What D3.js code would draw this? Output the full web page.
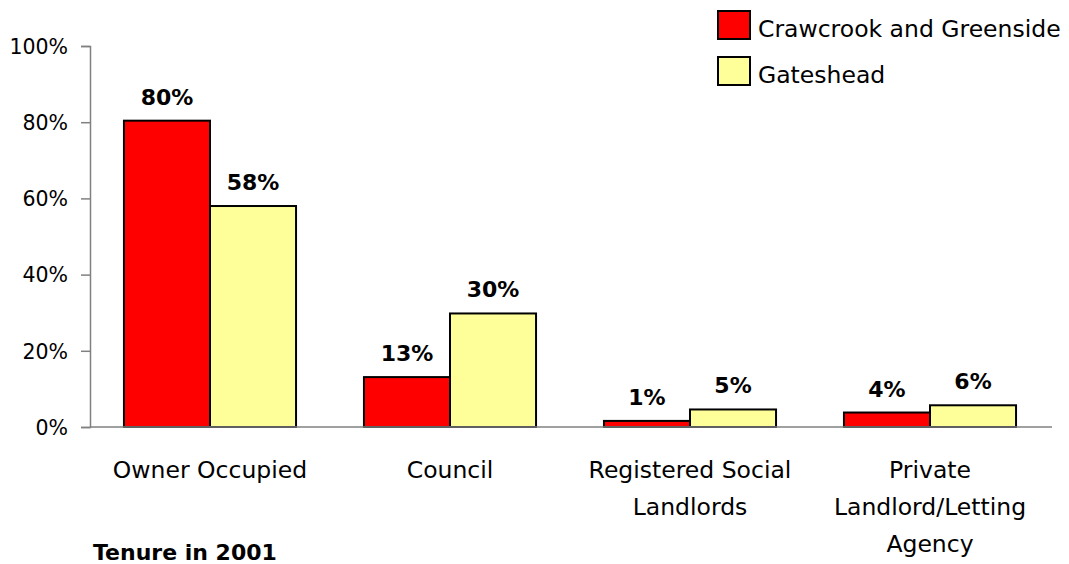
<!DOCTYPE html>
<html><head><meta charset="utf-8">
<script src="https://cdn.jsdelivr.net/npm/d3@7"></script>
<style>body{margin:0;background:#fff;} svg{display:block;} text{font-family:"DejaVu Sans",sans-serif;fill:#000;}</style>
</head><body>
<svg id="c" width="1069" height="564"></svg>
<script>
const categories = [["Owner Occupied"],["Council"],["Registered Social","Landlords"],["Private","Landlord/Letting","Agency"]];
const seriesNames = ["Crawcrook and Greenside","Gateshead"];
const crawcrook = [80.4, 13.1, 1.6, 3.8];
const gateshead = [58.0, 29.8, 4.6, 5.7];
const crawcrookLabels = ["80%","13%","1%","4%"];
const gatesheadLabels = ["58%","30%","5%","6%"];
const yTicks = [0,20,40,60,80,100];
const colors = ["#ff0000","#ffff99"];
const xTitle = "Tenure in 2001";

const svg = d3.select("#c");
const x = d3.scaleBand().domain(d3.range(categories.length)).range([90,1050]).paddingInner(0.283).paddingOuter(0.1415);
const y = d3.scaleLinear().domain([0,100]).range([427,46]);
const xs = d3.scaleBand().domain([0,1]).range([0,x.bandwidth()]);

// y axis
const ya = svg.append("g").attr("transform","translate(90,0)")
  .call(d3.axisLeft(y).tickValues(yTicks).tickFormat(d=>d+"%").tickSize(9).tickPadding(13));
ya.select(".domain").attr("stroke","#808080").attr("stroke-width",1.5);
ya.selectAll(".tick line").attr("stroke","#808080").attr("stroke-width",1.5);
ya.selectAll(".tick text").style("font-family","DejaVu Sans").style("font-size","20.5px").attr("fill","#000").attr("dy","0.36em");

const series = [crawcrook, gateshead];
const labels = [crawcrookLabels, gatesheadLabels];
series.forEach((vals,si)=>{
  svg.append("g").selectAll("rect").data(vals).join("rect")
    .attr("x",(d,i)=>x(i)+xs(si)).attr("y",d=>y(d))
    .attr("width",xs.bandwidth()).attr("height",d=>y(0)-y(d))
    .attr("fill",colors[si]).attr("stroke","#000").attr("stroke-width",2);
  svg.append("g").selectAll("text").data(vals).join("text")
    .attr("x",(d,i)=>x(i)+xs(si)+xs.bandwidth()/2).attr("y",d=>y(d)-16)
    .attr("text-anchor","middle").style("font-size","22px").style("font-weight","bold")
    .text((d,i)=>labels[si][i]);
});

// x axis baseline
svg.append("line").attr("x1",90).attr("x2",1052).attr("y1",y(0)).attr("y2",y(0)).attr("stroke","#808080").attr("stroke-width",1.5);

// category labels
categories.forEach((lines,i)=>{
  const t = svg.append("text").attr("text-anchor","middle").style("font-size","23.5px");
  lines.forEach((ln,j)=>t.append("tspan").attr("x",x(i)+x.bandwidth()/2).attr("y",478+j*37).text(ln));
});

svg.append("text").attr("x",93).attr("y",560).style("font-size","22px").style("font-weight","bold").text(xTitle);

// legend
const lg = svg.append("g");
seriesNames.forEach((n,i)=>{
  lg.append("rect").attr("x",718).attr("y",11+i*46).attr("width",32).attr("height",28)
    .attr("fill",colors[i]).attr("stroke","#000").attr("stroke-width",2);
  lg.append("text").attr("x",758).attr("y",37+i*46).style("font-size","23.5px").text(n);
});
</script>
</body></html>
